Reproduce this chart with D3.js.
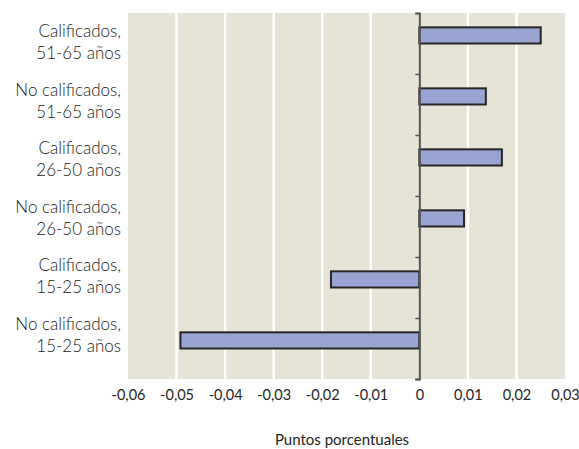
<!DOCTYPE html>
<html>
<head>
<meta charset="utf-8">
<script src="https://cdn.jsdelivr.net/npm/d3@7"></script>
<style>
  html, body { margin: 0; padding: 0; background: #ffffff; }
  svg { display: block; }
  text { font-family: Lato, "Open Sans", sans-serif; fill: #262626; }
</style>
</head>
<body>
<svg id="chart" width="579" height="449"></svg>
<script>
// Group labels (two lines each), from top to bottom
const labelLine1 = ["Calificados,", "No calificados,", "Calificados,", "No calificados,", "Calificados,", "No calificados,"];
const labelLine2 = ["51-65 años", "51-65 años", "26-50 años", "26-50 años", "15-25 años", "15-25 años"];
// Change in percentage points
const values = [0.025, 0.0137, 0.017, 0.0092, -0.0182, -0.0492];
const xTicks = [-0.06, -0.05, -0.04, -0.03, -0.02, -0.01, 0, 0.01, 0.02, 0.03];
const axisTitle = "Puntos porcentuales";

const svg = d3.select("#chart");
const plot = { left: 128, right: 565, top: 13, bottom: 379 };

const x = d3.scaleLinear().domain([-0.06, 0.03]).range([plot.left, plot.right]);
const y = d3.scaleBand().domain(d3.range(values.length)).range([plot.top, plot.bottom]).padding(0);
// baselines of the first line of each category label
const labelY = d3.scalePoint().domain(d3.range(values.length)).range([37, 330]);

const fmt = v => (v === 0 ? "0" : d3.format(".2f")(v).replace(".", ",").replace("−", "-"));

// plot background
svg.append("rect")
  .attr("x", plot.left).attr("y", plot.top)
  .attr("width", plot.right - plot.left).attr("height", plot.bottom - plot.top)
  .attr("fill", "#e6e4d7");

// vertical gridlines
svg.append("g").selectAll("line")
  .data(xTicks.filter(t => t !== 0 && t !== -0.06 && t !== 0.03))
  .join("line")
  .attr("x1", d => x(d)).attr("x2", d => x(d))
  .attr("y1", plot.top).attr("y2", plot.bottom)
  .attr("stroke", "#ffffff").attr("stroke-width", 2.5);

// bars
const bw = y.bandwidth();
const barOffset = bw * 0.235;
const barH = bw * 0.265;
svg.append("g").selectAll("rect")
  .data(values)
  .join("rect")
  .attr("x", d => x(Math.min(0, d)))
  .attr("width", d => Math.abs(x(d) - x(0)))
  .attr("y", (d, i) => y(i) + barOffset)
  .attr("height", barH)
  .attr("fill", "#9aa4d3")
  .attr("stroke", "#262626")
  .attr("stroke-width", 2);

// zero axis with category ticks
const yAxis = d3.axisLeft(d3.scaleLinear().domain([0, values.length]).range([plot.top, plot.bottom]))
  .ticks(values.length)
  .tickSize(4)
  .tickFormat("");
const ya = svg.append("g").attr("transform", `translate(${x(0)},0)`).call(yAxis);
ya.select(".domain").attr("stroke", "#555").attr("stroke-width", 2);
ya.selectAll(".tick line").attr("stroke", "#555").attr("stroke-width", 1.5);

// x tick labels
const xAxis = d3.axisBottom(x).tickValues(xTicks).tickSize(0).tickPadding(0).tickFormat(fmt);
const xa = svg.append("g").attr("transform", `translate(0,${plot.bottom})`).call(xAxis);
xa.select(".domain").remove();
xa.selectAll("text")
  .attr("y", 21).attr("dy", 0)
  .style("font-family", "Lato, sans-serif")
  .style("font-size", "14.5px")
  .style("font-weight", 400)
  .style("fill", "#262626");

// category labels
const labels = svg.append("g").selectAll("text")
  .data(values)
  .join("text")
  .attr("text-anchor", "end")
  .style("font-size", "17px")
  .style("font-weight", 300)
  .style("fill", "#1a1a1a")
  .attr("x", 121)
  .attr("y", (d, i) => labelY(i));
labels.append("tspan").attr("x", 121).attr("dy", 0).text((d, i) => labelLine1[i]);
labels.append("tspan").attr("x", 121).attr("dy", 22).text((d, i) => labelLine2[i]);

// axis title
svg.append("text")
  .attr("x", 342).attr("y", 445)
  .attr("text-anchor", "middle")
  .style("font-size", "15px")
  .style("font-weight", 400)
  .text(axisTitle);
</script>
</body>
</html>
